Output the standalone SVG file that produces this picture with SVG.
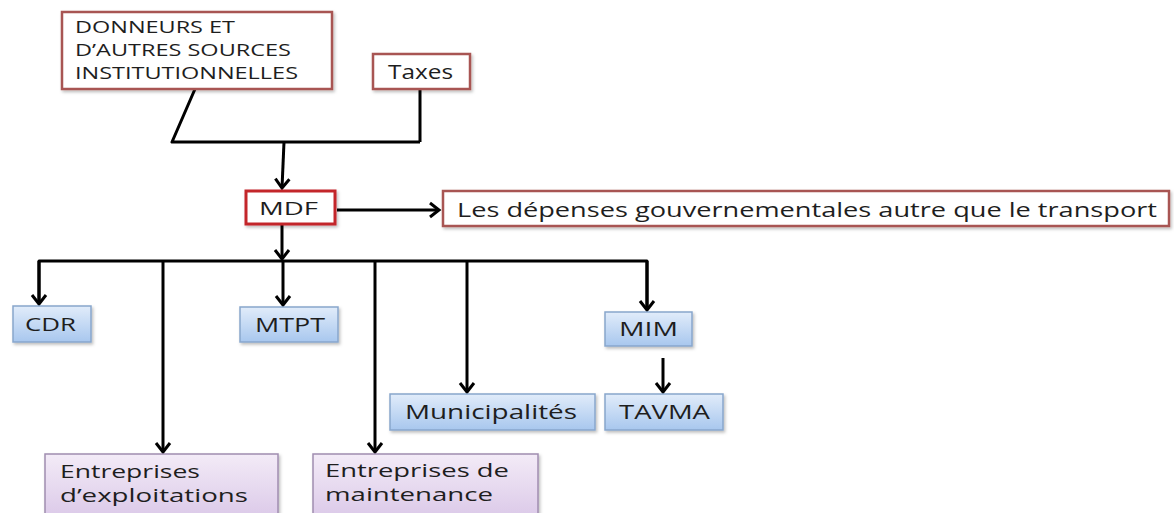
<svg xmlns="http://www.w3.org/2000/svg" width="1174" height="513" viewBox="0 0 1174 513">
<style>
.red{fill:#ffffff;stroke:#a85552;stroke-width:2.5}
.mdf{fill:#ffffff;stroke:#c3262b;stroke-width:3}
.blue{fill:url(#gb);stroke:#88a6cc;stroke-width:1.5}
.purple{fill:url(#gp);stroke:#a08db0;stroke-width:1.5}
.t{font-family:"Open Sans","Noto Sans","Liberation Sans",sans-serif;fill:#1e1e1e}
.c{fill:none;stroke:#000;stroke-width:3;stroke-linejoin:round}
</style>
<defs>
<linearGradient id="gb" x1="0" y1="0" x2="0" y2="1">
<stop offset="0" stop-color="#e1ecfa"/>
<stop offset="1" stop-color="#a8c7ee"/>
</linearGradient>
<linearGradient id="gp" x1="0" y1="0" x2="0" y2="1">
<stop offset="0" stop-color="#f3ebf7"/>
<stop offset="1" stop-color="#d9c6e7"/>
</linearGradient>
<filter id="sh" x="-10%" y="-20%" width="125%" height="150%">
<feDropShadow dx="1.5" dy="2" stdDeviation="1.5" flood-color="#000" flood-opacity="0.25"/>
</filter>
<marker id="ar" markerUnits="userSpaceOnUse" markerWidth="18" markerHeight="18" viewBox="-13 -9 15 18" refX="0" refY="0" orient="auto">
<path d="M-9,-7 L0,0 L-9,7" fill="none" stroke="#000" stroke-width="3" stroke-linejoin="miter"/>
</marker>
</defs>

<g id="connectors">
<path class="c" d="M195,89 L172,142 L420,142 M420,89 L420,142"/>
<path class="c" d="M284,142 L282,188" marker-end="url(#ar)"/>
<path class="c" d="M337,210 L439,210" marker-end="url(#ar)"/>
<path class="c" d="M282,224 L282,259" marker-end="url(#ar)"/>
<path class="c" d="M39,304 L39,261 L647,261 L647,310"/>
<path class="c" d="M39,261 L39,304" marker-end="url(#ar)"/>
<path class="c" d="M647,261 L647,310" marker-end="url(#ar)"/>
<path class="c" d="M163,261 L163,452" marker-end="url(#ar)"/>
<path class="c" d="M283,261 L283,305" marker-end="url(#ar)"/>
<path class="c" d="M375,261 L375,452" marker-end="url(#ar)"/>
<path class="c" d="M467,261 L467,392" marker-end="url(#ar)"/>
<path class="c" d="M663,358 L663,392" marker-end="url(#ar)"/>
</g>

<g id="donneurs">
<rect class="red" x="62" y="12" width="270" height="77" filter="url(#sh)"/>
<text class="t" font-size="17" x="75" y="33" textLength="160" lengthAdjust="spacingAndGlyphs">DONNEURS ET</text>
<text class="t" font-size="17" x="75" y="56" textLength="216" lengthAdjust="spacingAndGlyphs">D’AUTRES SOURCES</text>
<text class="t" font-size="17" x="75" y="79" textLength="223" lengthAdjust="spacingAndGlyphs">INSTITUTIONNELLES</text>
</g>

<g id="taxes">
<rect class="red" x="373" y="54" width="97" height="35" filter="url(#sh)"/>
<text class="t" font-size="20" x="388" y="79" textLength="65" lengthAdjust="spacingAndGlyphs">Taxes</text>
</g>

<g id="mdf">
<rect class="mdf" x="246" y="191" width="89" height="33" filter="url(#sh)"/>
<text class="t" font-size="19" x="259" y="215" textLength="59" lengthAdjust="spacingAndGlyphs">MDF</text>
</g>

<g id="depenses">
<rect class="red" x="443" y="191" width="726" height="35" filter="url(#sh)"/>
<text class="t" font-size="20.5" x="457" y="217" textLength="700" lengthAdjust="spacingAndGlyphs">Les dépenses gouvernementales autre que le transport</text>
</g>

<g id="cdr">
<rect class="blue" x="13" y="306" width="78" height="36" filter="url(#sh)"/>
<text class="t" font-size="19" x="25" y="331" textLength="51" lengthAdjust="spacingAndGlyphs">CDR</text>
</g>

<g id="mtpt">
<rect class="blue" x="240" y="307" width="98" height="35" filter="url(#sh)"/>
<text class="t" font-size="19.5" x="255" y="332" textLength="70" lengthAdjust="spacingAndGlyphs">MTPT</text>
</g>

<g id="mim">
<rect class="blue" x="605" y="312" width="87" height="34" filter="url(#sh)"/>
<text class="t" font-size="19.5" x="619" y="336" textLength="59" lengthAdjust="spacingAndGlyphs">MIM</text>
</g>

<g id="municipalites">
<rect class="blue" x="390" y="394" width="205" height="36" filter="url(#sh)"/>
<text class="t" font-size="20" x="405" y="419" textLength="172" lengthAdjust="spacingAndGlyphs">Municipalités</text>
</g>

<g id="tavma">
<rect class="blue" x="605" y="394" width="118" height="36" filter="url(#sh)"/>
<text class="t" font-size="20" x="619" y="419" textLength="91" lengthAdjust="spacingAndGlyphs">TAVMA</text>
</g>

<g id="exploitations">
<rect class="purple" x="45" y="454" width="233" height="70" filter="url(#sh)"/>
<text class="t" font-size="18.5" x="60" y="478" textLength="140" lengthAdjust="spacingAndGlyphs">Entreprises</text>
<text class="t" font-size="18.5" x="60" y="502" textLength="188" lengthAdjust="spacingAndGlyphs">d’exploitations</text>
</g>

<g id="maintenance">
<rect class="purple" x="313" y="454" width="225" height="70" filter="url(#sh)"/>
<text class="t" font-size="18.5" x="325" y="477" textLength="184" lengthAdjust="spacingAndGlyphs">Entreprises de</text>
<text class="t" font-size="18.5" x="325" y="501" textLength="168" lengthAdjust="spacingAndGlyphs">maintenance</text>
</g>
</svg>
